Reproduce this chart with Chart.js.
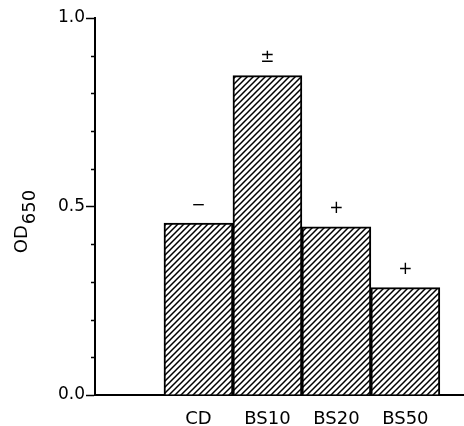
<!DOCTYPE html>
<html lang="en">
<head>
<meta charset="UTF-8">
<title>OD650 by strain</title>
<script src="https://cdn.jsdelivr.net/npm/chart.js"></script>
<style>
  body { margin: 0; background: #fff; }
  canvas { display: block; }
</style>
</head>
<body>
<canvas id="odChart" width="464" height="426"></canvas>
<script>
  // values
  const categories = ['CD', 'BS10', 'BS20', 'BS50'];
  const odValues = [0.456, 0.847, 0.446, 0.285];
  const signs = ['\u2212', '\u00b1', '+', '+'];
  const yMajorTicks = [0, 0.5, 1.0];
  const yTickLabels = ['0.0', '0.5', '1.0'];
  const yMinorTicks = [0.1, 0.2, 0.3, 0.4, 0.6, 0.7, 0.8, 0.9];

  const FONT = '"DejaVu Sans", sans-serif';

  // diagonal hatch fill
  function makeHatch(ctx) {
    const s = 6;
    const c = document.createElement('canvas');
    c.width = s; c.height = s;
    const g = c.getContext('2d');
    g.fillStyle = '#fff';
    g.fillRect(0, 0, s, s);
    g.strokeStyle = '#000';
    g.lineWidth = 1.5;
    g.beginPath();
    g.moveTo(0, s); g.lineTo(s, 0);
    g.moveTo(-1, 1); g.lineTo(1, -1);
    g.moveTo(s - 1, s + 1); g.lineTo(s + 1, s - 1);
    g.stroke();
    return ctx.createPattern(c, 'repeat');
  }

  const minorTicks = {
    id: 'minorTicks',
    afterDraw(chart) {
      const ctx = chart.ctx;
      const y = chart.scales.y;
      const x0 = chart.chartArea.left;
      ctx.save();
      ctx.strokeStyle = '#000';
      ctx.lineWidth = 1.5;
      ctx.beginPath();
      yMinorTicks.forEach(v => {
        const py = Math.round(y.getPixelForValue(v)) + 0.5;
        ctx.moveTo(x0 - 4, py);
        ctx.lineTo(x0, py);
      });
      ctx.stroke();
      ctx.restore();
    }
  };

  const signLabels = {
    id: 'signLabels',
    afterDatasetsDraw(chart) {
      const ctx = chart.ctx;
      const meta = chart.getDatasetMeta(0);
      ctx.save();
      ctx.fillStyle = '#000';
      ctx.font = '17px ' + FONT;
      ctx.textAlign = 'center';
      ctx.textBaseline = 'middle';
      meta.data.forEach((bar, i) => {
        ctx.fillText(signs[i], bar.x, bar.y - 18);
      });
      ctx.restore();
    }
  };

  // rotated "OD" with subscript "650"
  const yTitle = {
    id: 'yTitle',
    afterDraw(chart) {
      const ctx = chart.ctx;
      const cy = chart.scales.y.getPixelForValue(0.5) + 15;
      ctx.save();
      ctx.translate(27, cy);
      ctx.rotate(-Math.PI / 2);
      ctx.fillStyle = '#000';
      ctx.textBaseline = 'alphabetic';
      ctx.textAlign = 'left';
      ctx.font = '18px ' + FONT;
      const wMain = ctx.measureText('OD').width;
      const wSub = ctx.measureText('650').width;
      const start = -(wMain + wSub + 1) / 2;
      ctx.fillText('OD', start, 0);
      ctx.fillText('650', start + wMain + 1, 8);
      ctx.restore();
    }
  };

  const ctx = document.getElementById('odChart').getContext('2d');

  new Chart(ctx, {
    type: 'bar',
    data: {
      datasets: [{
        data: categories.map((c, i) => ({ x: i + 1, y: odValues[i] })),
        backgroundColor: makeHatch(ctx),
        borderColor: '#000',
        borderWidth: 2,
        barPercentage: 1,
        categoryPercentage: 1
      }]
    },
    options: {
      responsive: false,
      animation: false,
      devicePixelRatio: 1,
      layout: { padding: { top: 18, right: 0, bottom: 0, left: 0 } },
      plugins: {
        legend: { display: false },
        tooltip: { enabled: false }
      },
      scales: {
        x: {
          type: 'linear',
          offset: false,
          min: -0.5,
          max: 4.85,
          afterBuildTicks: s => { s.ticks = categories.map((c, i) => ({ value: i + 1 })); },
          afterFit: s => { s.height = 31; },
          grid: { display: false, drawTicks: false },
          border: { display: true, color: '#000', width: 2 },
          ticks: {
            padding: 14,
            color: '#000',
            font: { family: FONT, size: 18 },
            callback: v => categories[v - 1] || ''
          }
        },
        y: {
          min: 0,
          max: 1,
          afterBuildTicks: s => { s.ticks = yMajorTicks.map(v => ({ value: v })); },
          afterFit: s => { s.width = 95; },
          grid: {
            drawOnChartArea: false,
            drawTicks: true,
            tickLength: 9,
            tickWidth: 1.5,
            tickColor: '#000'
          },
          border: { display: true, color: '#000', width: 2 },
          ticks: {
            padding: 1,
            color: '#000',
            font: { family: FONT, size: 17 },
            callback: v => yTickLabels[yMajorTicks.indexOf(v)]
          }
        }
      }
    },
    plugins: [minorTicks, signLabels, yTitle]
  });
</script>
</body>
</html>
